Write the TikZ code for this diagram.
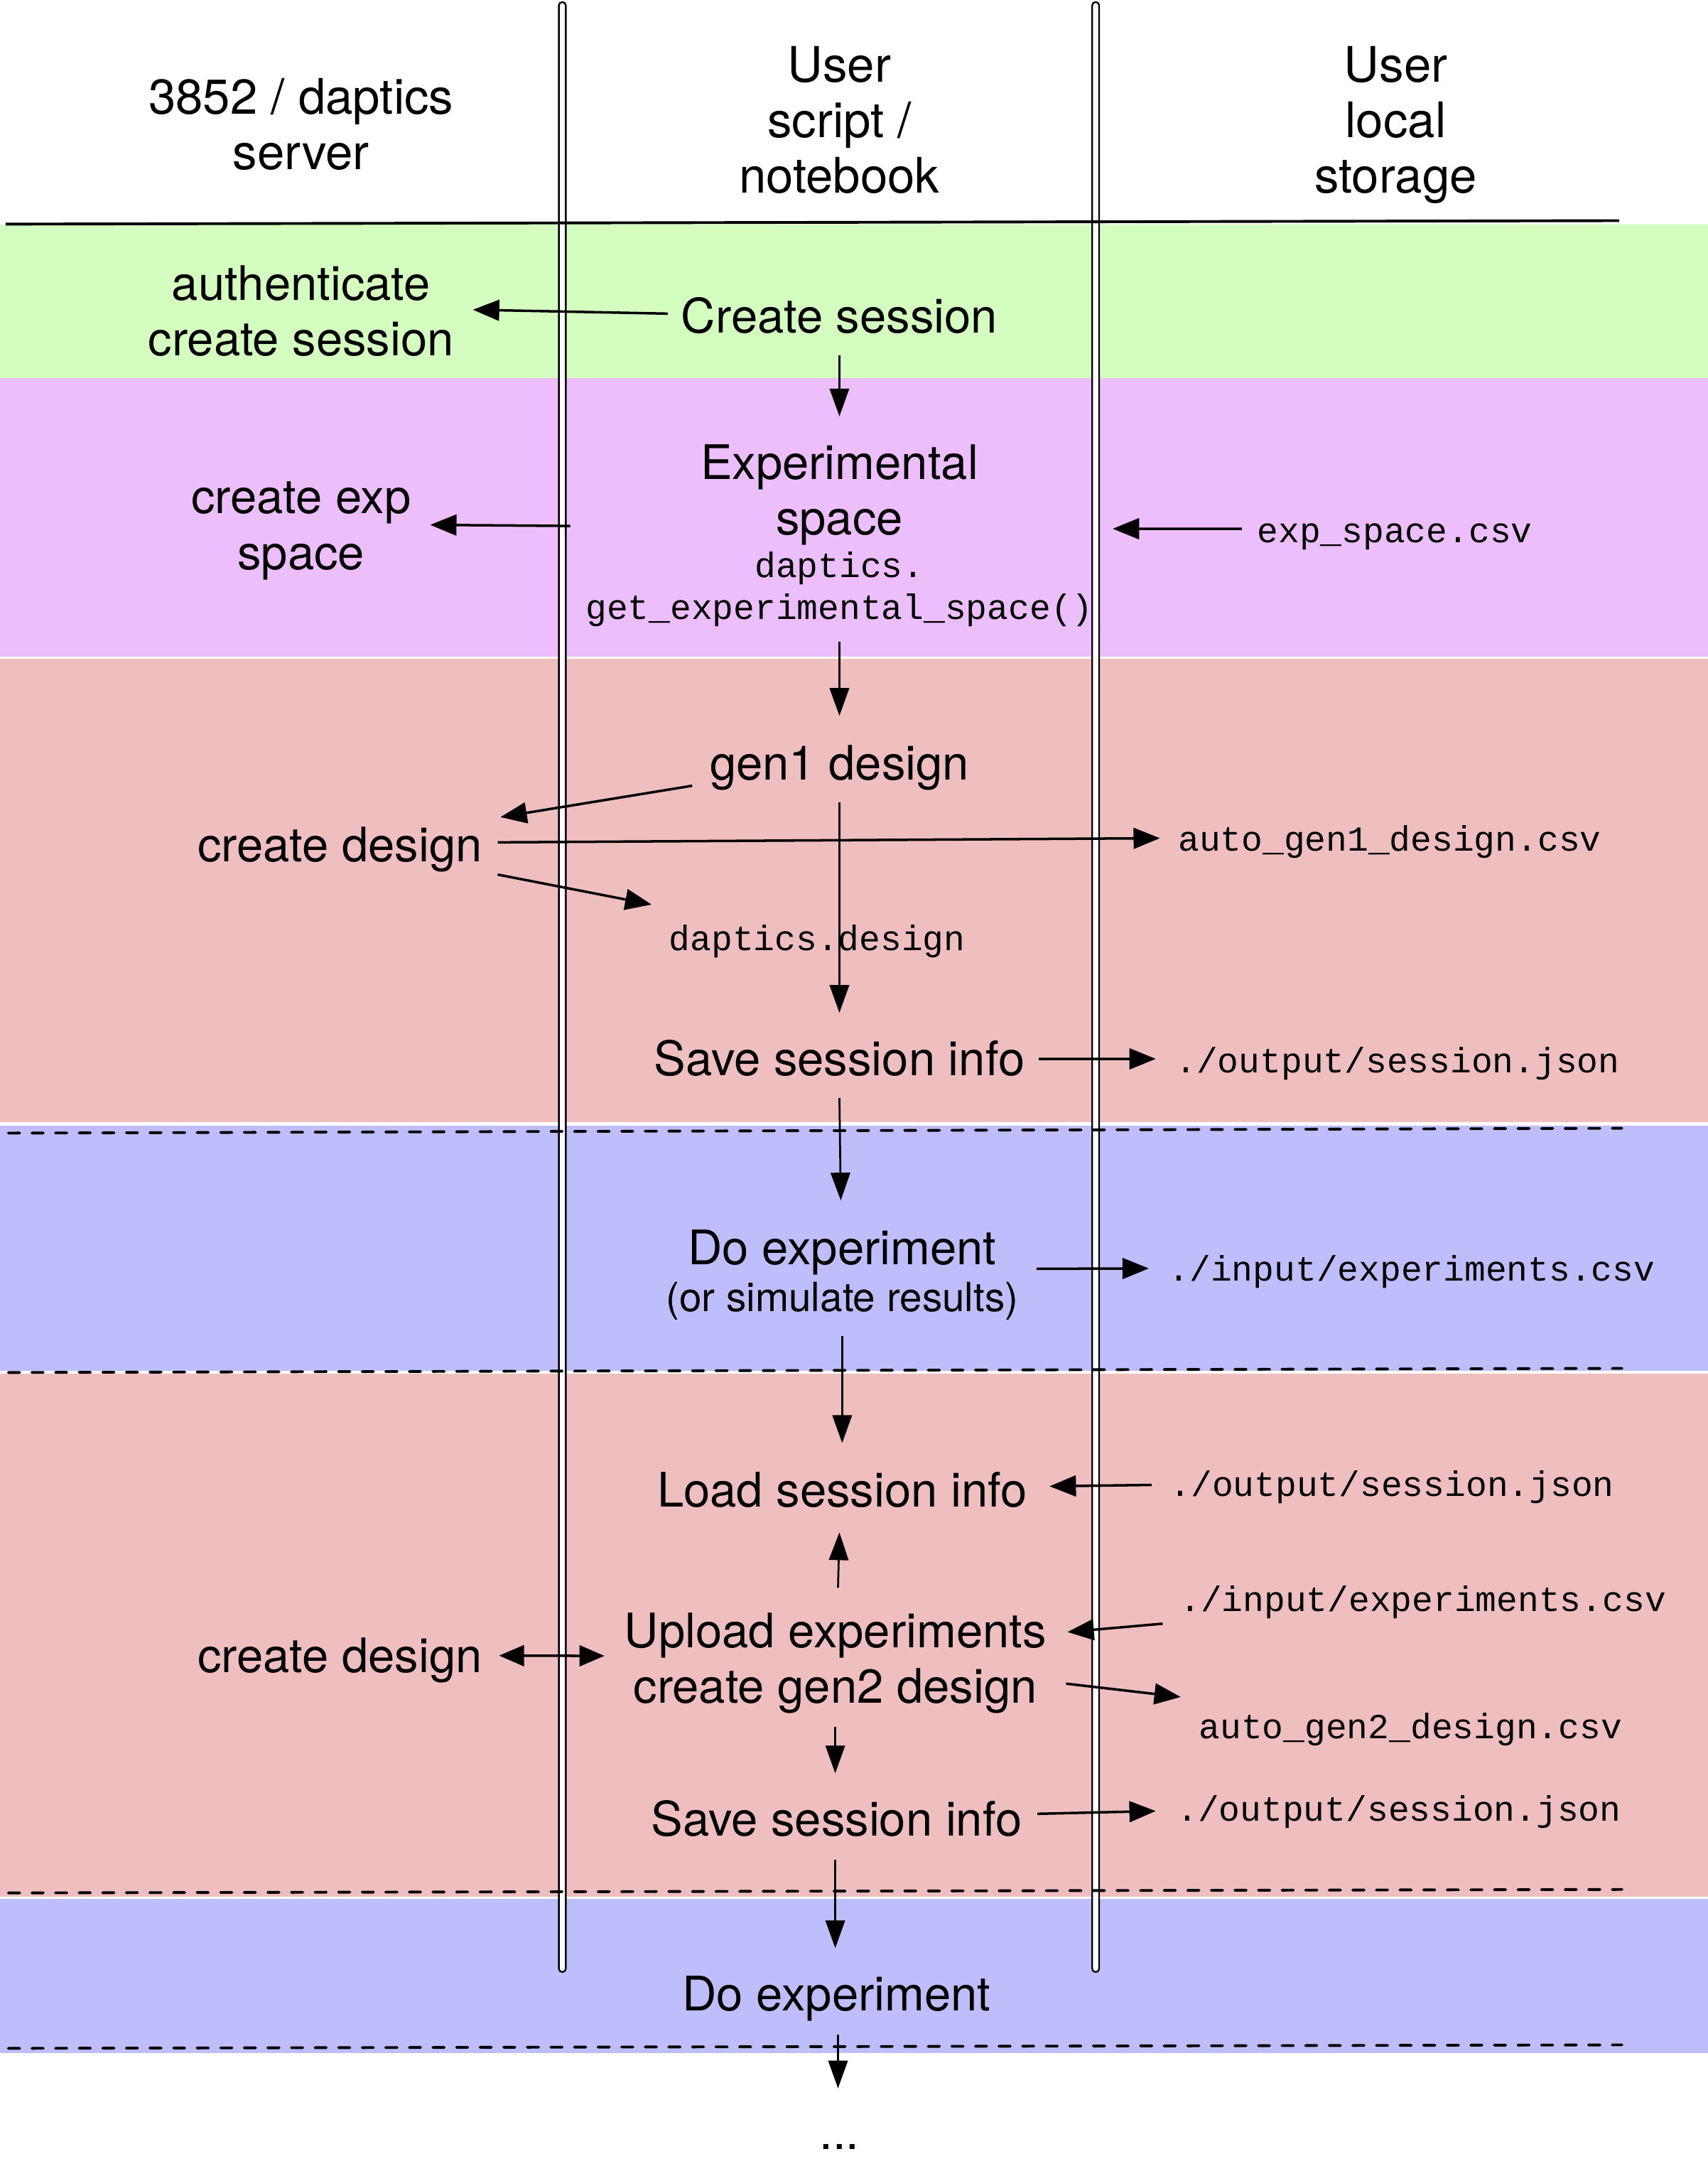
\documentclass[tikz,border=0pt]{standalone}
\usepackage{fontspec}
\setmainfont{TeX Gyre Heros}
\newfontfamily\monof{Liberation Mono}
\usetikzlibrary{arrows.meta}
\definecolor{bgreen}{RGB}{212,254,192}
\definecolor{bpurple}{RGB}{236,190,252}
\definecolor{bpink}{RGB}{239,191,191}
\definecolor{bblue}{RGB}{190,190,253}
\begin{document}
\begin{tikzpicture}[x=1pt,y=-1pt,
  main/.style={inner sep=0pt, font=\fontsize{34.3}{40}\selectfont, align=center},
  head/.style={inner sep=0pt, font=\fontsize{35.3}{40}\selectfont, align=center},
  code/.style={inner sep=0pt, font=\monof\fontsize{25.4}{30}\selectfont, align=center},
  arr/.style={-{Triangle[length=19pt,width=15pt]}, line width=1.8pt},
  varr/.style={-{Triangle[length=20pt,width=14pt]}, line width=1.4pt},
  darr/.style={{Triangle[length=18pt,width=15pt]}-{Triangle[length=18pt,width=15pt]}, line width=1.8pt},
  lifeline/.style={draw=black, line width=1.2pt, fill=white, rounded corners=2.4pt},
  sepline/.style={line width=2pt, dash pattern=on 8.2pt off 8.8pt, line cap=round},
]
\useasboundingbox (0,0) rectangle (1231,1568);
\fill[white] (0,0) rectangle (1231,1568);
% bands
\fill[bgreen] (0,162) rectangle (1231,272.5);
\fill[bpurple] (0,272.5) rectangle (1231,473);
\fill[bpink] (0,474.5) rectangle (1231,808.5);
\fill[bblue] (0,811) rectangle (1231,988);
\fill[bpink] (0,990) rectangle (1231,1366.5);
\fill[bblue] (0,1368.5) rectangle (1231,1479.5);
% lifelines
\draw[lifeline] (402.8,1.5) rectangle (407.8,1421);
\draw[lifeline] (787.2,1.5) rectangle (792.2,1421);
% header and separators
\draw[line width=2pt] (4,161.5) -- (1167,159);
\draw[sepline] (6,816.5) -- (1169,813);
\draw[sepline] (6,989) -- (1169,986);
\draw[sepline] (6,1364) -- (1169,1361.5);
\draw[sepline] (6,1476) -- (1169,1473.5);
% header texts
\node[head, anchor=north] (h1) at (217,54) {\strut 3852 / daptics\\\strut server};
\node[head, anchor=north] (h2) at (605,31) {\strut User\\\strut script /\\\strut notebook};
\node[head, anchor=north] (h3) at (1006,31) {\strut User\\\strut local\\\strut storage};
% nodes
\node[main, anchor=north] (auth) at (217,188) {\strut authenticate\\\strut create session};
\node[main, anchor=base] (cs) at (605,240) {\strut Create session};
\node[main, anchor=north] (expsp) at (605,317) {\strut Experimental\\\strut space};
\node[code, anchor=north] (code) at (605,395) {\strut daptics.\\\strut get\_experimental\_space()};
\node[main, anchor=north] (cexp) at (217,342) {\strut create exp\\\strut space};
\node[code, anchor=base west] (expcsv) at (906,391) {\strut exp\_space.csv};
\node[main, anchor=base] (gen1) at (605,562) {\strut gen1 design};
\node[main, anchor=base] (cd1) at (245,621) {\strut create design};
\node[code, anchor=base west] (ag1) at (849,613) {\strut auto\_gen1\_design.csv};
\node[code, anchor=base] (dd) at (589,685) {\strut daptics.design};
\node[main, anchor=base] (save1) at (605,775) {\strut Save session info};
\node[code, anchor=base west] (out1) at (847,773) {\strut ./output/session.json};
\node[main, anchor=north] (doexp) at (607,883) {\strut Do experiment\\[-6pt]\fontsize{29}{34}\selectfont\strut (or simulate results)};
\node[code, anchor=base west] (in1) at (842,923) {\strut ./input/experiments.csv};
\node[main, anchor=base] (load) at (607,1086) {\strut Load session info};
\node[code, anchor=base west] (out2) at (843,1078) {\strut ./output/session.json};
\node[main, anchor=north] (upl) at (602,1159) {\strut Upload experiments\\\strut create gen2 design};
\node[main, anchor=base] (cd2) at (245,1205) {\strut create design};
\node[code, anchor=base west] (in2) at (850,1161) {\strut ./input/experiments.csv};
\node[code, anchor=base west] (ag2) at (864,1253) {\strut auto\_gen2\_design.csv};
\node[main, anchor=base] (save2) at (603,1323) {\strut Save session info};
\node[code, anchor=base west] (out3) at (848,1312) {\strut ./output/session.json};
\node[main, anchor=base] (doexp2) at (603,1449) {\strut Do experiment};
\node[main, anchor=base] (dots) at (605,1549) {\strut ...};
% free ends at lifelines
\coordinate (lfA) at (411,379);
\coordinate (rfA) at (802,381);
% connectors
\draw[arr] ([shift={(-9.6,-6)}]cs.west) -- ([shift={(13.5,-5)}]auth.east);
\draw[varr] ([shift={(0,4)}]cs.south) -- ([shift={(0,-17)}]expsp.north);
\draw[arr] (lfA) -- ([shift={(13.6,-4)}]cexp.east);
\draw[arr] ([shift={(-11,-4)}]expcsv.west) -- (rfA);
\draw[varr] ([shift={(0,7)}]code.south) -- ([shift={(0,-18)}]gen1.north);
\draw[arr] ([shift={(-12.5,-8)}]gen1.south west) -- ([shift={(13,-4)}]cd1.north east);
\draw[arr] ([shift={(11,-6)}]cd1.east) -- ([shift={(-13,-3)}]ag1.west);
\draw[arr] ([shift={(11,-3)}]cd1.south east) -- ([shift={(-12.5,-12)}]dd.north west);
\draw[varr] ([shift={(0,4)}]gen1.south) -- ([shift={(0,-17)}]save1.north);
\draw[arr] ([shift={(10,-4)}]save1.east) -- ([shift={(-14,-4)}]out1.west);
\draw[varr] ([shift={(0,4)}]save1.south) -- ([shift={(-1,-18)}]doexp.north);
\draw[arr] ([shift={(13,-5)}]doexp.east) -- ([shift={(-14,-3)}]in1.west);
\draw[varr] ([shift={(0,7)}]doexp.south) -- ([shift={(0,-18)}]load.north);
\draw[arr] ([shift={(-13,-2)}]out2.west) -- ([shift={(16,-7)}]load.east);
\draw[varr] ([shift={(2,-15)}]upl.north) -- ([shift={(-2,6)}]load.south);
\draw[darr] ([shift={(12,-4)}]cd2.east) -- ([shift={(-14,-6)}]upl.west);
\draw[arr] ([shift={(-12,15)}]in2.west) -- ([shift={(15,17)}]upl.north east);
\draw[arr] ([shift={(14,14)}]upl.east) -- ([shift={(-13,-9)}]ag2.north west);
\draw[varr] ([shift={(0,5)}]upl.south) -- ([shift={(-1,-17)}]save2.north);
\draw[arr] ([shift={(11,-8)}]save2.east) -- ([shift={(-15,-1)}]out3.west);
\draw[varr] ([shift={(-1,5)}]save2.south) -- ([shift={(-1,-17)}]doexp2.north);
\draw[varr] ([shift={(1,5)}]doexp2.south) -- ([shift={(-1,-16)}]dots.north);
\end{tikzpicture}
\end{document}
